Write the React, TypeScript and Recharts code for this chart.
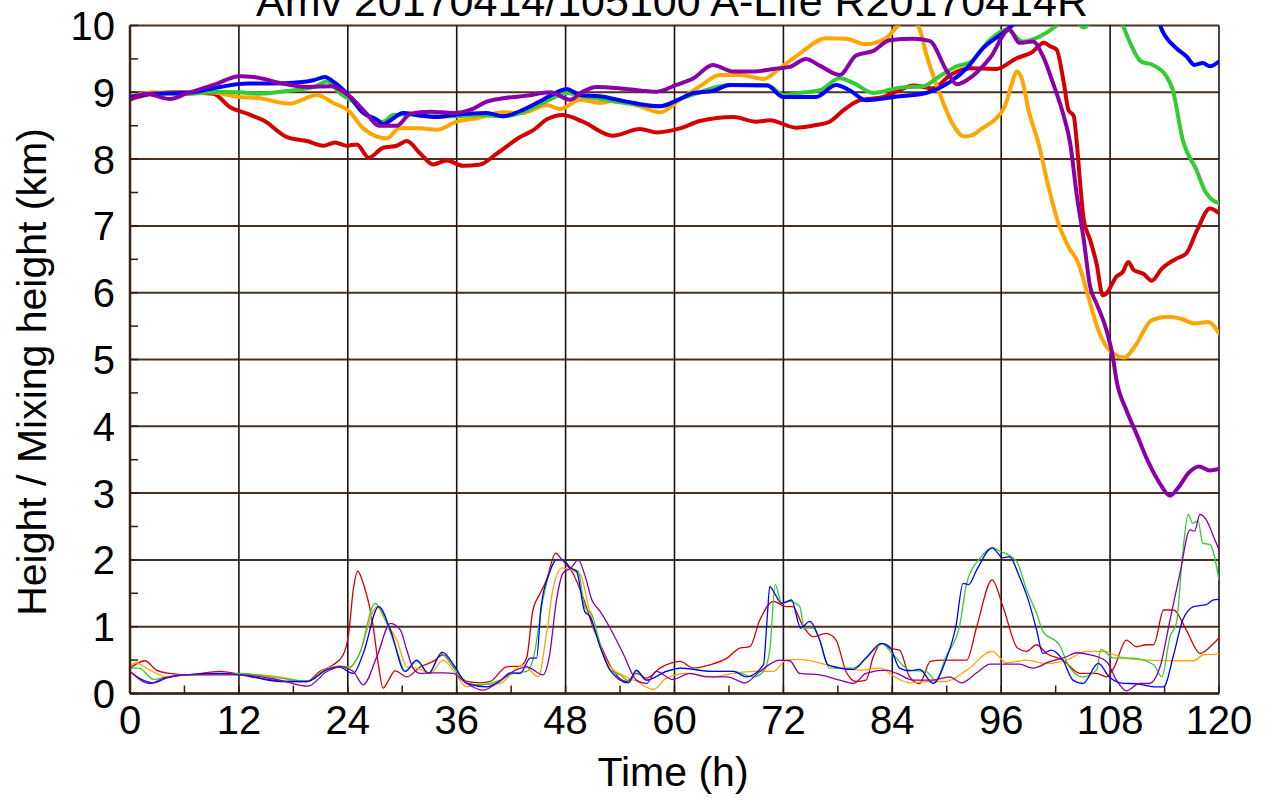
import React from "react";
import { LineChart, Line, XAxis, YAxis, CartesianGrid } from "recharts";

type P = [number, number];

const TITLE = "Amv 20170414/105100 A-Life R20170414R";
const X_LABEL = "Time (h)";
const Y_LABEL = "Height / Mixing height (km)";

const X_TICKS = [0, 6, 12, 18, 24, 30, 36, 42, 48, 54, 60, 66, 72, 78, 84, 90, 96, 102, 108, 114, 120];
const X_MAJOR = [0, 12, 24, 36, 48, 60, 72, 84, 96, 108, 120];
const Y_TICKS = [0, 0.5, 1, 1.5, 2, 2.5, 3, 3.5, 4, 4.5, 5, 5.5, 6, 6.5, 7, 7.5, 8, 8.5, 9, 9.5, 10];
const Y_MAJOR = [0, 1, 2, 3, 4, 5, 6, 7, 8, 9, 10];

// Trajectory heights (thick lines)
const redHeight: P[] = [[0,8.9],[2.6,8.98],[5.5,9.0],[9.2,8.98],[11,8.78],[12.9,8.68],[14.7,8.58],[17.3,8.33],[19.5,8.27],[21.3,8.2],[22.6,8.25],[23.9,8.2],[25,8.22],[26.3,8.02],[27.9,8.17],[29.4,8.2],[30.5,8.27],[32,8.08],[33.4,7.92],[34.9,7.98],[36.7,7.9],[38.6,7.92],[40.4,8.08],[43,8.33],[44.4,8.43],[46,8.6],[47.7,8.66],[49.9,8.56],[53.2,8.35],[56.2,8.45],[58,8.4],[60.6,8.46],[62.8,8.57],[66.5,8.63],[69,8.56],[70.5,8.58],[73.4,8.47],[75.6,8.51],[77.1,8.56],[78.6,8.73],[80.4,8.88],[83,8.93],[84.8,9.03],[86.3,9.1],[88.5,9.06],[90.4,9.26],[92.6,9.36],[95.5,9.35],[97.7,9.51],[99.4,9.6],[100.7,9.74],[101.4,9.69],[102.1,9.64],[102.9,9.14],[103.4,8.74],[104,8.64],[104.3,8.29],[104.7,7.64],[105.1,7.09],[105.8,6.79],[106.5,6.44],[107.2,5.96],[107.6,5.99],[108.7,6.24],[109.4,6.31],[110,6.46],[110.6,6.34],[111.7,6.28],[112.6,6.18],[113.7,6.36],[115.3,6.51],[116.4,6.59],[117.6,6.94],[119,7.26],[120,7.19]];
const orangeHeight: P[] = [[0,8.93],[2.6,9.0],[6.2,8.98],[8.8,9.0],[12.1,8.93],[14.3,8.91],[17.6,8.83],[20.6,8.96],[22.4,8.84],[24.2,8.71],[25.7,8.46],[28.3,8.31],[29.7,8.46],[32,8.46],[33.8,8.44],[36,8.56],[38.2,8.61],[41.1,8.7],[43.3,8.69],[45.9,8.81],[47.4,8.75],[49.6,8.89],[51.8,8.84],[53.6,8.88],[56.2,8.79],[58.4,8.7],[60.6,8.89],[62.8,9.09],[65,9.26],[67.2,9.26],[69.8,9.2],[71.6,9.36],[73.8,9.58],[76.7,9.81],[78.9,9.8],[81.1,9.72],[83.4,9.82],[84.8,10.02],[86,10.1],[87,9.95],[87.7,9.59],[89.2,8.99],[90.6,8.54],[91.9,8.34],[92.8,8.36],[93.9,8.46],[95.3,8.59],[96.4,8.79],[97.2,9.14],[97.7,9.31],[98.3,9.19],[99,8.74],[100.1,8.24],[101.2,7.59],[102.3,7.04],[103.4,6.69],[104.5,6.44],[105.6,5.94],[106.7,5.44],[107.8,5.16],[109.6,5.03],[110.7,5.19],[112.6,5.59],[114.4,5.64],[115.8,5.61],[117.3,5.54],[118.8,5.56],[120,5.39]];
const greenHeight: P[] = [[0,8.93],[2.6,8.98],[6.2,8.98],[9.9,9.01],[12.1,9.0],[14.3,8.98],[17.3,9.02],[20.3,9.08],[21.7,9.16],[23.2,8.98],[24.6,8.86],[26.4,8.64],[27.9,8.56],[29,8.66],[30.5,8.67],[33.4,8.64],[35.6,8.64],[38.6,8.66],[41.1,8.64],[43,8.69],[45.5,8.84],[47,8.94],[48.1,8.99],[49.9,8.94],[51.8,8.9],[54,8.85],[56.2,8.81],[58.4,8.79],[60.6,8.9],[62.8,9.0],[65,9.09],[66.5,9.11],[70.2,9.11],[72,8.96],[73.8,8.99],[76,9.03],[78.2,9.21],[79.7,9.14],[81.9,8.99],[84.8,9.07],[87.4,9.09],[89.2,9.24],[91.1,9.39],[92.6,9.45],[94.8,9.79],[96.6,9.94],[98.4,9.76],[100.3,9.84],[102.1,10.0],[103.2,10.15],[104.3,10.05],[105.1,9.97],[106,10.08],[107.5,10.3],[109.4,10.0],[110.2,9.74],[111.4,9.46],[112.7,9.41],[114.2,9.24],[114.9,9.04],[116,8.29],[117.5,7.84],[118.6,7.49],[120,7.34]];
const blueHeight: P[] = [[0,8.93],[2.6,8.98],[6.2,8.99],[9.9,9.08],[12.9,9.13],[15.4,9.13],[18.7,9.15],[20.2,9.18],[21.5,9.23],[22.4,9.16],[24.2,8.94],[25.7,8.69],[27.2,8.59],[27.9,8.52],[28.8,8.59],[30.1,8.69],[32,8.65],[33.8,8.63],[35.6,8.66],[39.3,8.69],[41.1,8.64],[43,8.72],[45.5,8.89],[47,9.0],[48.1,9.05],[49.6,8.96],[51.8,8.94],[54.7,8.86],[58.4,8.79],[60.6,8.9],[62.1,8.99],[64.2,9.02],[66.1,9.11],[70.2,9.1],[72,8.93],[75.6,8.93],[77.8,9.11],[79.3,9.03],[81.1,8.88],[84.8,8.94],[87.7,8.99],[90.4,9.16],[92.2,9.36],[94,9.66],[95.9,9.86],[97.2,10.0],[98.5,10.2],[102,10.5],[107,10.6],[111,10.4],[113.5,10.0],[113.8,9.91],[115.3,9.66],[116.4,9.54],[117.3,9.41],[118.2,9.44],[119,9.39],[120,9.46]];
const purpleHeight: P[] = [[0,8.89],[1.8,8.98],[4.4,8.9],[6.2,8.98],[9.2,9.11],[12.1,9.24],[13.6,9.23],[16.5,9.14],[19.5,9.08],[22.1,9.09],[24.2,8.94],[26,8.69],[27.4,8.5],[29.4,8.5],[30.9,8.68],[33.1,8.71],[35.6,8.69],[37.9,8.76],[39.3,8.86],[41.1,8.91],[43.7,8.95],[46.3,9.0],[48.5,8.89],[49.9,9.01],[51.4,9.08],[54.7,9.05],[58,9.01],[60.2,9.11],[62.1,9.21],[64.2,9.41],[66.5,9.31],[68.7,9.31],[70.9,9.35],[72.7,9.38],[74.5,9.5],[76,9.4],[78.2,9.26],[80,9.55],[81.9,9.62],[83.7,9.78],[86.3,9.8],[88.1,9.77],[90,9.32],[91.1,9.12],[92.9,9.25],[94.8,9.52],[96.9,9.94],[98,9.74],[99.5,9.76],[100.6,9.54],[101.7,9.14],[102.9,8.64],[103.6,8.24],[104.3,7.49],[105.1,6.79],[105.8,6.09],[106.5,5.84],[107.6,5.44],[108.3,5.04],[108.7,4.69],[109.8,4.24],[110.9,3.89],[112.3,3.44],[113.5,3.14],[114.6,2.96],[115.5,3.08],[116.7,3.31],[117.8,3.4],[119,3.34],[120,3.36]];

// Mixing heights (thin lines)
const redMixing: P[] = [[0,0.38],[1.65,0.49],[2.9,0.35],[4.4,0.3],[6.2,0.28],[9.9,0.33],[12.1,0.29],[17.3,0.18],[19.5,0.18],[20.9,0.33],[22.4,0.43],[23.5,0.58],[24.1,0.9],[24.6,1.55],[25.1,1.83],[25.7,1.65],[26.8,1.0],[27.4,0.4],[27.9,0.08],[28.5,0.2],[29.2,0.34],[30.5,0.25],[32,0.4],[33.4,0.48],[34.5,0.58],[35.6,0.4],[37.1,0.18],[38.6,0.16],[39.7,0.18],[41.5,0.4],[43,0.41],[43.7,0.53],[44.4,1.25],[45.2,1.5],[45.9,1.7],[46.9,2.1],[47.6,2.0],[48.8,1.8],[49.9,1.45],[51,1.0],[52.1,0.65],[53.2,0.35],[54.7,0.18],[55.8,0.3],[56.9,0.23],[58.4,0.38],[60.6,0.48],[62.1,0.38],[63.9,0.43],[65.8,0.53],[67.2,0.68],[68.3,0.7],[69.4,1.1],[70.9,1.38],[72.3,1.3],[73,1.3],[74.2,1.0],[75.3,0.85],[76.7,0.9],[77.8,0.8],[78.9,0.33],[80,0.18],[81.1,0.2],[81.9,0.55],[82.8,0.75],[83.7,0.68],[84.8,0.65],[85.9,0.25],[87,0.15],[88.2,0.48],[89.6,0.5],[92.2,0.5],[93.3,1.0],[95,1.7],[96.2,1.3],[97.8,0.68],[98.8,0.63],[99.9,0.73],[101,0.6],[102.8,0.5],[104.7,0.3],[106.5,0.3],[107.6,0.25],[108.4,0.38],[109.8,0.8],[110.9,0.7],[112,0.73],[112.8,0.73],[113.9,1.25],[115,1.25],[116.4,0.95],[117.9,0.6],[119.4,0.75],[120,0.83]];
const orangeMixing: P[] = [[0,0.41],[0.6,0.46],[2.2,0.35],[4,0.25],[6.2,0.28],[12.1,0.29],[16.5,0.25],[19.5,0.18],[21.7,0.38],[23.2,0.41],[24.2,0.38],[25.3,0.6],[27.2,1.3],[28.3,1.05],[29.4,0.8],[30.5,0.4],[31.6,0.38],[33.1,0.31],[34.5,0.5],[35.6,0.35],[37.1,0.1],[38.6,0.13],[40.8,0.15],[42.2,0.33],[43.3,0.43],[45,0.25],[45.9,0.9],[46.6,1.55],[47.6,1.88],[48.5,1.85],[49.6,1.78],[50.7,1.2],[51.8,0.7],[52.9,0.4],[54.7,0.25],[55.8,0.18],[57.7,0.06],[59.1,0.23],[61.3,0.3],[64.3,0.25],[66.5,0.3],[68.7,0.33],[70.9,0.33],[72.3,0.5],[73.8,0.51],[77.4,0.41],[80.4,0.35],[82.6,0.38],[84.5,0.23],[85.9,0.16],[88.2,0.18],[89.9,0.18],[92.2,0.35],[95,0.63],[96.6,0.46],[98.8,0.5],[101,0.45],[103.2,0.5],[105.4,0.63],[107.2,0.63],[109.1,0.55],[112,0.5],[115,0.49],[117.2,0.49],[118.3,0.58],[120,0.59]];
const greenMixing: P[] = [[0,0.38],[1,0.38],[2.6,0.21],[4,0.25],[6.2,0.28],[12.1,0.3],[16.5,0.23],[19.5,0.18],[21.7,0.35],[23,0.41],[24.2,0.4],[25.3,0.6],[27,1.35],[28.3,1.05],[29.4,0.65],[30.3,0.33],[31.6,0.48],[32.9,0.3],[34.3,0.6],[35.6,0.4],[37.1,0.16],[38.6,0.13],[40.8,0.2],[42.2,0.3],[43.7,0.33],[44.4,0.5],[45.5,1.4],[46.2,1.8],[47,2.0],[47.7,2.0],[48.6,1.88],[49.4,1.83],[50.1,1.3],[50.9,1.18],[51.8,0.75],[52.9,0.35],[54,0.28],[55.1,0.18],[55.8,0.33],[56.9,0.2],[59.1,0.33],[60.9,0.38],[64.6,0.33],[66.5,0.33],[68.7,0.25],[69.8,0.33],[70.5,0.65],[71.1,1.63],[71.8,1.35],[72.7,1.38],[73.8,1.3],[74.3,0.98],[75.3,0.98],[76,0.8],[77.1,0.38],[79.7,0.38],[81.1,0.53],[82.9,0.74],[84.1,0.58],[85.9,0.35],[87.7,0.33],[88.8,0.2],[89.9,0.55],[91.4,1.0],[92.2,1.65],[93.7,2.03],[95,2.18],[95.9,2.13],[97.7,1.98],[98.8,1.55],[99.9,1.2],[100.6,0.93],[102.4,0.73],[103.5,0.4],[105,0.25],[106.5,0.35],[107,0.66],[108.4,0.53],[110.5,0.53],[112.8,0.43],[113.7,0.25],[114.6,0.85],[115.3,1.05],[116,2.1],[116.6,2.68],[117.1,2.55],[117.7,2.58],[118.2,2.25],[119,2.23],[120,1.7]];
const blueMixing: P[] = [[0,0.33],[1,0.23],[2.6,0.16],[4,0.23],[6.2,0.28],[9.9,0.3],[12.1,0.28],[16.5,0.18],[19.5,0.18],[21.7,0.36],[23,0.4],[24.6,0.3],[25.7,0.6],[27.4,1.3],[28.7,0.95],[30.3,0.33],[31.6,0.5],[32.9,0.3],[34.4,0.62],[35.9,0.38],[37.1,0.15],[39.3,0.1],[40.8,0.19],[41.9,0.31],[43,0.3],[44.1,0.53],[44.8,0.53],[45.3,1.3],[46.2,1.8],[47,2.0],[47.7,2.0],[48.5,1.88],[49.2,1.83],[50.1,1.23],[50.7,1.15],[51.8,0.7],[52.9,0.35],[54.9,0.16],[55.8,0.35],[56.9,0.2],[59.1,0.33],[60.6,0.38],[64.2,0.33],[66.5,0.33],[67.9,0.25],[69.8,0.43],[70.2,1.1],[70.5,1.6],[71.1,1.48],[71.8,1.35],[72.9,1.4],[73.9,0.98],[74.9,1.08],[76,0.8],[76.9,0.43],[79.7,0.36],[81.1,0.53],[82.8,0.75],[83.7,0.7],[84.8,0.38],[85.9,0.34],[87,0.36],[88.5,0.15],[89.9,0.5],[91,1.0],[91.8,1.65],[92.4,1.63],[93.3,1.85],[95,2.18],[96.2,2.03],[96.9,2.05],[98,1.75],[99.1,1.35],[99.9,0.95],[100.6,0.6],[101.5,0.65],[102.8,0.5],[103.9,0.2],[105,0.15],[106.7,0.45],[107.9,0.25],[109.1,0.16],[111.2,0.14],[112.8,0.1],[113.9,0.1],[115,0.58],[116,1.1],[117.2,1.3],[118.6,1.33],[119.4,1.4],[120,1.41]];
const purpleMixing: P[] = [[0,0.33],[2.2,0.15],[3.7,0.23],[6.2,0.28],[12.1,0.28],[16.5,0.2],[19.6,0.11],[21.7,0.33],[23.2,0.4],[24.6,0.33],[25.7,0.13],[27.2,0.55],[28.7,1.05],[29.8,0.95],[30.5,0.65],[31.2,0.38],[32,0.3],[33.4,0.31],[34.7,0.31],[35.6,0.3],[37.1,0.15],[38.9,0.05],[40.4,0.15],[42.2,0.33],[43.7,0.4],[45.5,0.28],[46.2,0.55],[47,1.4],[47.7,1.8],[48.6,1.88],[49.4,2.0],[50.1,1.78],[50.9,1.4],[51.8,1.23],[52.9,0.98],[54.4,0.58],[55.8,0.2],[56.9,0.15],[58,0.33],[59.8,0.21],[61.7,0.3],[63.5,0.25],[65.8,0.25],[67.8,0.16],[69.4,0.33],[71.6,0.5],[72.7,0.49],[73.8,0.3],[76,0.28],[78.2,0.2],[79.7,0.15],[81.1,0.3],[83.3,0.35],[84.5,0.3],[86.3,0.2],[88.5,0.2],[90.3,0.25],[91.6,0.16],[93.3,0.31],[94.8,0.44],[98,0.44],[99.5,0.38],[101.4,0.48],[103.2,0.55],[104.3,0.61],[105.8,0.58],[107.6,0.48],[108.7,0.2],[109.8,0.04],[111.2,0.15],[112.3,0.15],[113.5,0.4],[114.6,1.1],[115.7,1.8],[116.8,2.45],[117.3,2.43],[117.9,2.68],[118.6,2.6],[119.4,2.35],[120,2.15]];

const COLORS = {
  red: "#d40000",
  orange: "#ffa500",
  green: "#33cc33",
  blue: "#0000ff",
  purple: "#8a00a8",
};

const SERIES = [
  { key: "redH", pts: redHeight, color: COLORS.red, w: 4 },
  { key: "orangeH", pts: orangeHeight, color: COLORS.orange, w: 4 },
  { key: "greenH", pts: greenHeight, color: COLORS.green, w: 4 },
  { key: "blueH", pts: blueHeight, color: COLORS.blue, w: 4 },
  { key: "purpleH", pts: purpleHeight, color: COLORS.purple, w: 4 },
  { key: "redM", pts: redMixing, color: COLORS.red, w: 1.3 },
  { key: "orangeM", pts: orangeMixing, color: COLORS.orange, w: 1.3 },
  { key: "greenM", pts: greenMixing, color: COLORS.green, w: 1.3 },
  { key: "blueM", pts: blueMixing, color: COLORS.blue, w: 1.3 },
  { key: "purpleM", pts: purpleMixing, color: COLORS.purple, w: 1.3 },
];

const FONT = "'Liberation Sans', Arial, Helvetica, sans-serif";
const TICK_COLOR = "#2a1c14";
const BORDER = "#3b2519";

const BottomTick = (props: any) => {
  const { x, y, payload } = props;
  const v = payload.value;
  const major = v % 12 === 0;
  return (
    <g>
      <line x1={x} x2={x} y1={y} y2={y - 8} stroke={TICK_COLOR} strokeWidth={1.5} />
      {major && (
        <text x={x} y={y + 40} textAnchor="middle" fontSize={40} fontFamily={FONT} fill="#000">
          {v}
        </text>
      )}
    </g>
  );
};

const TopTick = (props: any) => {
  const { x, y } = props;
  return <line x1={x} x2={x} y1={y} y2={y + 8} stroke={TICK_COLOR} strokeWidth={1.5} />;
};

const LeftTick = (props: any) => {
  const { x, y, payload } = props;
  const v = payload.value;
  const major = Number.isInteger(v);
  return (
    <g>
      <line x1={x} x2={x + 8} y1={y} y2={y} stroke={TICK_COLOR} strokeWidth={1.5} />
      {major && (
        <text x={x - 15} y={y + 14.5} textAnchor="end" fontSize={40} fontFamily={FONT} fill="#000">
          {v}
        </text>
      )}
    </g>
  );
};

const RightTick = (props: any) => {
  const { x, y } = props;
  return <line x1={x} x2={x - 8} y1={y} y2={y} stroke={TICK_COLOR} strokeWidth={1.5} />;
};

export default function App() {
  return (
    <div style={{ position: "absolute", left: 0, top: 0, width: 1288, height: 803, background: "#fff" }}>
      <LineChart
        width={1288}
        height={803}
        margin={{ top: 25.5, right: 69, bottom: 49.5, left: 60 }}
      >
        <CartesianGrid
          xAxisId="b"
          yAxisId="l"
          vertical={false}
          horizontal={true}
          horizontalValues={Y_MAJOR}
          stroke="#4a3022"
          strokeWidth={2}
          strokeDasharray=""
        />
        <CartesianGrid
          xAxisId="b"
          yAxisId="l"
          vertical={true}
          horizontal={false}
          verticalValues={X_MAJOR}
          stroke="#1c1410"
          strokeWidth={1.6}
          strokeDasharray=""
        />
        <XAxis
          xAxisId="b"
          type="number"
          dataKey="t"
          domain={[0, 120]}
          ticks={X_TICKS}
          interval={0}
          allowDataOverflow
          height={60}
          tickSize={0}
          tickMargin={0}
          tickLine={false}
          axisLine={{ stroke: BORDER, strokeWidth: 2.5 }}
          tick={<BottomTick />}
        />
        <XAxis
          xAxisId="t"
          orientation="top"
          type="number"
          dataKey="t"
          domain={[0, 120]}
          ticks={X_TICKS}
          interval={0}
          allowDataOverflow
          height={0}
          tickSize={0}
          tickMargin={0}
          tickLine={false}
          axisLine={{ stroke: BORDER, strokeWidth: 2.5 }}
          tick={<TopTick />}
        />
        <YAxis
          yAxisId="l"
          type="number"
          domain={[0, 10]}
          ticks={Y_TICKS}
          interval={0}
          allowDataOverflow
          width={70}
          tickSize={0}
          tickMargin={0}
          tickLine={false}
          axisLine={{ stroke: BORDER, strokeWidth: 2.5 }}
          tick={<LeftTick />}
        />
        <YAxis
          yAxisId="r"
          orientation="right"
          type="number"
          domain={[0, 10]}
          ticks={Y_TICKS}
          interval={0}
          allowDataOverflow
          width={0}
          tickSize={0}
          tickMargin={0}
          tickLine={false}
          axisLine={{ stroke: BORDER, strokeWidth: 2.5 }}
          tick={<RightTick />}
        />
        {SERIES.map((s) => (
          <Line
            key={s.key}
            name={s.key}
            xAxisId="b"
            yAxisId="l"
            data={s.pts.map(([t, v]) => ({ t, v }))}
            dataKey="v"
            type="monotone"
            stroke={s.color}
            strokeWidth={s.w}
            dot={false}
            activeDot={false}
            isAnimationActive={false}
            strokeLinejoin="round"
            strokeLinecap="round"
          />
        ))}
      </LineChart>
      <svg
        width={1288}
        height={803}
        style={{ position: "absolute", left: 0, top: 0, pointerEvents: "none" }}
      >
        <text x={672} y={16} textAnchor="middle" fontSize={43} fontFamily={FONT} fill="#000">
          {TITLE}
        </text>
        <text x={673} y={786} textAnchor="middle" fontSize={41} fontFamily={FONT} fill="#000">
          {X_LABEL}
        </text>
        <text
          x={46}
          y={372}
          textAnchor="middle"
          fontSize={41}
          fontFamily={FONT}
          fill="#000"
          transform="rotate(-90 46 372)"
        >
          {Y_LABEL}
        </text>
      </svg>
    </div>
  );
}
